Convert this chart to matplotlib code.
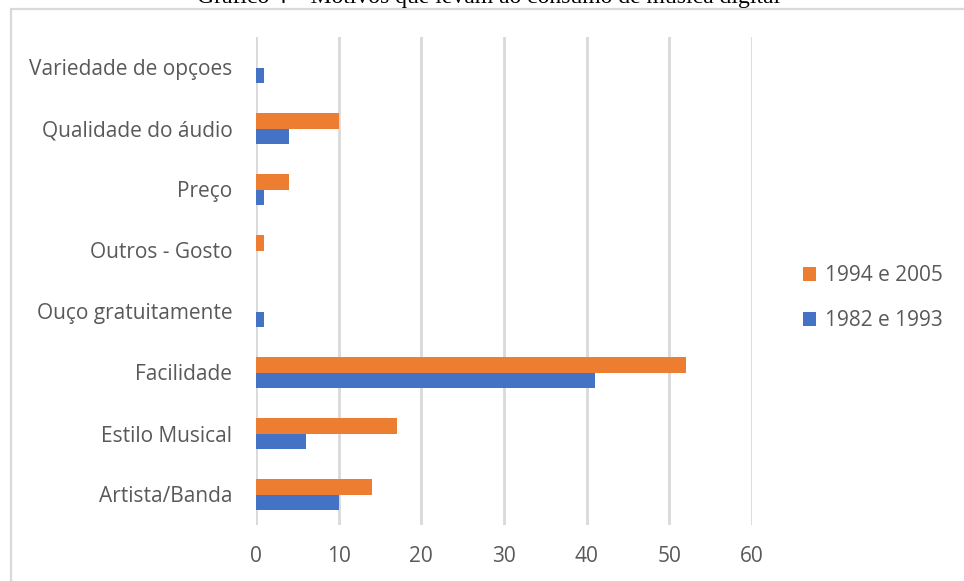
import numpy as np
import matplotlib
matplotlib.use("Agg")
import matplotlib.pyplot as plt
from matplotlib.patches import Rectangle

categorias = ["Artista/Banda", "Estilo Musical", "Facilidade", "Ouço gratuitamente",
              "Outros - Gosto", "Preço", "Qualidade do áudio", "Variedade de opçoes"]
serie_1982_1993 = [10, 6, 41, 1, 0, 1, 4, 1]
serie_1994_2005 = [14, 17, 52, 0, 1, 4, 10, 0]
rotulos_x = [0, 10, 20, 30, 40, 50, 60]

plt.rcParams['font.family'] = ['Open Sans', 'DejaVu Sans']

fig = plt.figure(figsize=(9.64, 5.81), dpi=100)
ax = fig.add_axes([256/964, 56/581, (752-256)/964, (544-56)/581])

y = np.arange(len(categorias))
altura = 0.26
ax.barh(y - altura/2, serie_1982_1993, height=altura, color='#4472C4', label='1982 e 1993', zorder=3)
ax.barh(y + altura/2, serie_1994_2005, height=altura, color='#ED7D31', label='1994 e 2005', zorder=3)

ax.set_xlim(0, 60)
ax.set_ylim(-0.5, len(categorias) - 0.5)
ax.set_xticks(rotulos_x)
ax.set_yticks(y)
ax.set_yticklabels(categorias)
ax.tick_params(axis='both', length=0, labelsize=15, colors='#595959')
ax.tick_params(axis='x', pad=15)
ax.tick_params(axis='y', pad=17)
ax.grid(axis='x', color='#D9D9D9', linewidth=2, zorder=0)
for s in ax.spines.values():
    s.set_visible(False)

handles, labels = ax.get_legend_handles_labels()
leg = fig.legend(handles[::-1], labels[::-1], loc='center left', bbox_to_anchor=(784/964, 1 - 298/581),
                 frameon=False, fontsize=15, labelspacing=1.15, handlelength=0.65, handleheight=0.65,
                 handletextpad=0.4)
for t in leg.get_texts():
    t.set_color('#595959')

# moldura do gráfico
fig.patches.append(Rectangle((11/964, -0.2), 1.2, 1.2 - 8.5/581, transform=fig.transFigure,
                             fill=False, edgecolor='#D9D9D9', linewidth=1.6))

fig.text(0.507, 1 - 3/581, "Gráfico 4 – Motivos que levam ao consumo de música digital",
         family='Liberation Serif', fontsize=17, ha='center', va='baseline', color='black')

fig.savefig("out.png", dpi=100)
